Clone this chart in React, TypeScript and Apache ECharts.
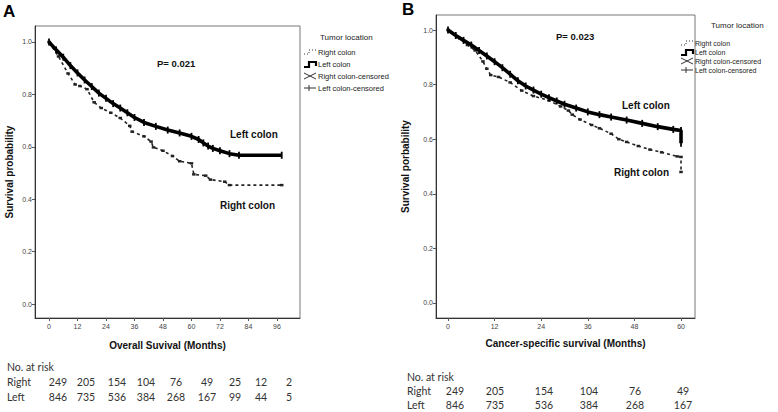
import React, { useEffect, useRef } from "react";
import * as echarts from "echarts";

// ---------- Data ----------
// Panel A: overall survival
const leftA_months = [0, 3, 6, 9, 12, 15, 18, 21, 24, 27, 30, 33, 36, 40, 45, 50, 55, 60, 63, 65, 67, 69, 72, 76, 80, 98];
const leftA_surv = [1.0, 0.97, 0.942, 0.91, 0.882, 0.855, 0.83, 0.805, 0.785, 0.765, 0.748, 0.73, 0.712, 0.693, 0.678, 0.664, 0.653, 0.64, 0.628, 0.615, 0.603, 0.594, 0.585, 0.574, 0.568, 0.568];
const rightA_months = [0, 4, 8, 11, 13, 16, 19, 22, 26, 30, 34, 35, 40, 43, 44, 48, 52, 55, 60, 61, 66, 68, 74, 76, 98];
const rightA_surv = [1.0, 0.945, 0.88, 0.838, 0.832, 0.82, 0.77, 0.748, 0.73, 0.71, 0.68, 0.658, 0.64, 0.62, 0.598, 0.585, 0.565, 0.545, 0.537, 0.495, 0.49, 0.475, 0.467, 0.454, 0.454];

// Panel B: cancer-specific survival
const leftB_months = [0, 2, 4, 6, 8, 10, 12, 14, 16, 18, 20, 22, 24, 26, 28, 30, 33, 36, 39, 42, 46, 50, 54, 58, 60, 60];
const leftB_surv = [1.0, 0.98, 0.962, 0.945, 0.925, 0.905, 0.884, 0.862, 0.838, 0.814, 0.795, 0.78, 0.765, 0.752, 0.74, 0.728, 0.714, 0.7, 0.69, 0.681, 0.67, 0.658, 0.646, 0.636, 0.632, 0.585];
const rightB_months = [0, 3, 5, 7, 9, 10, 11, 13, 16, 19, 22, 26, 29, 31, 32, 34, 37, 39, 42, 44, 46, 49, 52, 55, 59, 60, 60];
const rightB_surv = [1.0, 0.97, 0.945, 0.925, 0.885, 0.858, 0.835, 0.828, 0.808, 0.778, 0.758, 0.742, 0.72, 0.705, 0.69, 0.672, 0.652, 0.64, 0.62, 0.6, 0.59, 0.575, 0.562, 0.552, 0.537, 0.535, 0.48];

// Tick labels
const xTicksA = [0, 12, 24, 36, 48, 60, 72, 84, 96];
const xTicksB = [0, 12, 24, 36, 48, 60];
const yTicks = [0, 0.2, 0.4, 0.6, 0.8, 1.0];

// Numbers at risk
const riskRightA = [249, 205, 154, 104, 76, 49, 25, 12, 2];
const riskLeftA = [846, 735, 536, 384, 268, 167, 99, 44, 5];
const riskRightB = [249, 205, 154, 104, 76, 49];
const riskLeftB = [846, 735, 536, 384, 268, 167];

const legendItems = ["Right colon", "Left colon", "Right colon-censored", "Left colon-censored"];

// ---------- Layout ----------
const riskXA = [58, 86, 117, 146, 176, 207, 235, 261, 289];
const riskXB = [455, 495, 544, 589, 635, 683];

const AX = "Liberation Sans, Arial, sans-serif";
const CAL = "Lato, 'Open Sans', sans-serif";

const zip = (xs: number[], ys: number[]) => xs.map((x, i) => [x, ys[i]]);

function txt(text: string, x: number, y: number, o: any = {}) {
  return {
    type: "text",
    x,
    y,
    silent: true,
    style: {
      text,
      fontFamily: o.fontFamily || AX,
      fontSize: o.fontSize || 10,
      fontWeight: o.fontWeight || "normal",
      fill: o.fill || "#111",
      align: o.align || "left",
      verticalAlign: "middle",
    },
  };
}

function legend(x0: number, titleX: number, titleY: number, ys: number[], fs: number, tfs: number) {
  const els: any[] = [];
  els.push(txt("Tumor location", titleX, titleY, { fontSize: tfs, fill: "#222" }));
  const sx = x0;
  const tx = x0 + 14;
  els.push({
    type: "polyline",
    silent: true,
    shape: { points: [[sx, ys[0] + 2], [sx + 5, ys[0] + 2], [sx + 5, ys[0] - 2], [sx + 12, ys[0] - 2]] },
    style: { stroke: "#333", lineWidth: 1, lineDash: [1, 2], fill: null },
  });
  els.push({
    type: "polyline",
    silent: true,
    shape: { points: [[sx, ys[1] + 3], [sx + 5, ys[1] + 3], [sx + 5, ys[1] - 2], [sx + 12, ys[1] - 2], [sx + 12, ys[1] + 2]] },
    style: { stroke: "#000", lineWidth: 2.2, fill: null },
  });
  els.push({ type: "line", silent: true, shape: { x1: sx, y1: ys[2] - 3, x2: sx + 12, y2: ys[2] + 3 }, style: { stroke: "#333", lineWidth: 1 } });
  els.push({ type: "line", silent: true, shape: { x1: sx, y1: ys[2] + 3, x2: sx + 12, y2: ys[2] - 3 }, style: { stroke: "#333", lineWidth: 1 } });
  els.push({ type: "line", silent: true, shape: { x1: sx, y1: ys[3], x2: sx + 12, y2: ys[3] }, style: { stroke: "#333", lineWidth: 1 } });
  els.push({ type: "line", silent: true, shape: { x1: sx + 5, y1: ys[3] - 3, x2: sx + 5, y2: ys[3] + 3 }, style: { stroke: "#333", lineWidth: 1 } });
  legendItems.forEach((t, i) => els.push(txt(t, tx, ys[i], { fontSize: fs, fill: "#222" })));
  return els;
}

function riskTable(x0: number, y0: number, dy: number, xs: number[], right: number[], left: number[]) {
  const els: any[] = [];
  const o = { fontFamily: CAL, fontSize: 10.5, fill: "#333" };
  els.push(txt("No. at risk", x0, y0, o));
  els.push(txt("Right", x0, y0 + dy, o));
  els.push(txt("Left", x0, y0 + 2 * dy, o));
  right.forEach((v, i) => els.push(txt(String(v), xs[i], y0 + dy, { ...o, align: "center" })));
  left.forEach((v, i) => els.push(txt(String(v), xs[i], y0 + 2 * dy, { ...o, align: "center" })));
  return els;
}

function xAxis(gridIndex: number, min: number, max: number, ticks: number[], name: string, gap: number) {
  return {
    type: "value",
    gridIndex,
    min,
    max,
    splitLine: { show: false },
    axisLine: { show: true, onZero: false, lineStyle: { color: "#333", width: 1 } },
    axisTick: { show: true, customValues: ticks, length: 3, lineStyle: { color: "#555" } },
    axisLabel: { customValues: ticks, fontSize: 7, color: "#444", fontFamily: AX, margin: 5 },
    name,
    nameLocation: "middle",
    nameGap: gap,
    nameTextStyle: { fontFamily: AX, fontSize: 10, fontWeight: "bold", color: "#111" },
  };
}

function yAxis(gridIndex: number, min: number, max: number, name: string, gap: number) {
  return {
    type: "value",
    gridIndex,
    min,
    max,
    splitLine: { show: false },
    axisLine: { show: true, onZero: false, lineStyle: { color: "#333", width: 1 } },
    axisTick: { show: true, customValues: yTicks, length: 3, lineStyle: { color: "#555" } },
    axisLabel: {
      customValues: yTicks,
      fontSize: 7,
      color: "#444",
      fontFamily: AX,
      margin: 3,
      formatter: (v: number) => v.toFixed(1),
    },
    name,
    nameLocation: "middle",
    nameGap: gap,
    nameTextStyle: { fontFamily: AX, fontSize: 10, fontWeight: "bold", color: "#111" },
  };
}

function leftSeries(xi: number, data: number[][]) {
  return {
    type: "line",
    xAxisIndex: xi,
    yAxisIndex: xi,
    data,
    silent: true,
    showSymbol: true,
    symbol: "rect",
    symbolSize: [1.8, 7],
    itemStyle: { color: "#000" },
    lineStyle: { color: "#000", width: 3.6 },
    z: 3,
  };
}

function rightSeries(xi: number, data: number[][]) {
  return {
    type: "line",
    xAxisIndex: xi,
    yAxisIndex: xi,
    data,
    silent: true,
    showSymbol: true,
    symbol: "rect",
    symbolSize: [3.5, 2.5],
    itemStyle: { color: "#222" },
    lineStyle: { color: "#222", width: 1.6, type: [3, 3] },
    z: 2,
  };
}

export default function App() {
  const ref = useRef<HTMLDivElement>(null);
  useEffect(() => {
    if (!ref.current) return;
    const chart = echarts.init(ref.current, undefined, { renderer: "svg" });
    const option: any = {
      animation: false,
      backgroundColor: "#fff",
      grid: [
        { left: 35, top: 26, width: 265, height: 292, show: true, borderColor: "#777", borderWidth: 1, containLabel: false },
        { left: 436, top: 15, width: 259, height: 303, show: true, borderColor: "#777", borderWidth: 1, containLabel: false },
      ],
      xAxis: [
        xAxis(0, -5.9, 105.7, xTicksA, "Overall Suvival (Months)", 22),
        xAxis(1, -3.09, 63.6, xTicksB, "Cancer-specific survival (Months)", 20),
      ],
      yAxis: [
        yAxis(0, -0.053, 1.061, "Survival probability", 21),
        yAxis(1, -0.055, 1.055, "Survival porbability", 26),
      ],
      series: [
        rightSeries(0, zip(rightA_months, rightA_surv)),
        leftSeries(0, zip(leftA_months, leftA_surv)),
        rightSeries(1, zip(rightB_months, rightB_surv)),
        leftSeries(1, zip(leftB_months, leftB_surv)),
      ],
      graphic: [
        txt("A", 3, 11, { fontSize: 17, fontWeight: "bold", fill: "#000" }),
        txt("B", 402, 9, { fontSize: 17, fontWeight: "bold", fill: "#000" }),
        txt("P= 0.021", 157, 63, { fontSize: 9.5, fontWeight: "bold" }),
        txt("Left colon", 230, 134, { fontSize: 10, fontWeight: "bold" }),
        txt("Right colon", 220, 205, { fontSize: 10, fontWeight: "bold" }),
        txt("P= 0.023", 556, 36, { fontSize: 9.5, fontWeight: "bold" }),
        txt("Left colon", 622, 105, { fontSize: 10, fontWeight: "bold" }),
        txt("Right colon", 614, 172, { fontSize: 10, fontWeight: "bold" }),
        ...legend(304, 320, 37, [52, 64, 76, 88], 7.5, 8),
        ...legend(681, 711, 25, [43, 52, 61, 70], 7, 8),
        ...riskTable(7, 367, 15, riskXA, riskRightA, riskLeftA),
        ...riskTable(407, 377, 14, riskXB, riskRightB, riskLeftB),
      ],
    };
    chart.setOption(option);
    return () => chart.dispose();
  }, []);
  return (
    <div
      ref={ref}
      style={{ position: "absolute", left: 0, top: 0, width: 778, height: 412, background: "#fff" }}
    />
  );
}
